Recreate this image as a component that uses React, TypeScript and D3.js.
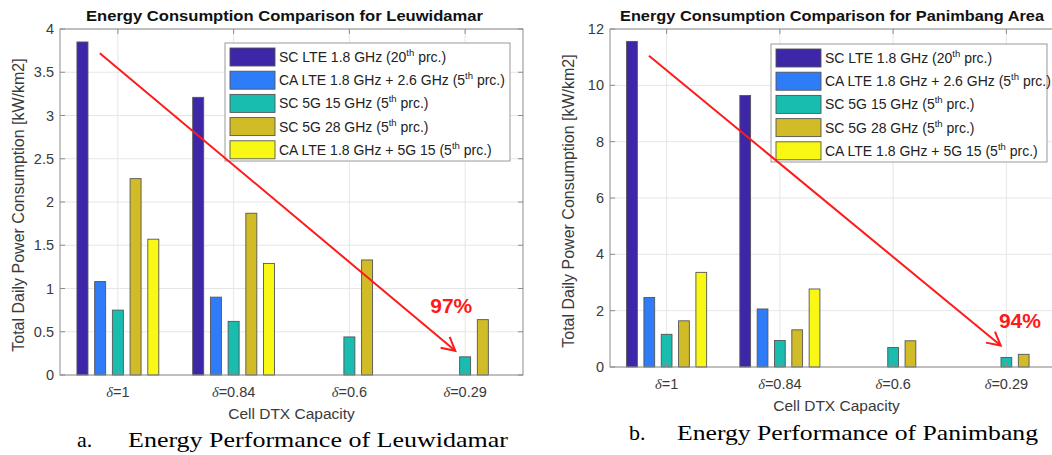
import React from "react";
import * as d3 from "d3";

// categories (cell DTX capacity δ)
const categories = ["1", "0.84", "0.6", "0.29"];

// series legend text: [before superscript, superscript, after]
const seriesLabels = [
  ["SC LTE 1.8 GHz (20", "th", " prc.)"],
  ["CA LTE 1.8 GHz + 2.6 GHz (5", "th", " prc.)"],
  ["SC 5G 15 GHz (5", "th", " prc.)"],
  ["SC 5G 28 GHz (5", "th", " prc.)"],
  ["CA LTE 1.8 GHz + 5G 15 (5", "th", " prc.)"],
];
const seriesColors = ["#3d26a8", "#2f7cf8", "#19bdb0", "#d1bc28", "#f8f814"];

// values per series, per category
const leuwidamarValues = [
  [3.85, 3.21, 0, 0],
  [1.08, 0.9, 0, 0],
  [0.75, 0.62, 0.44, 0.21],
  [2.27, 1.87, 1.33, 0.64],
  [1.57, 1.29, 0, 0],
];
const panimbangValues = [
  [11.56, 9.64, 0, 0],
  [2.47, 2.06, 0, 0],
  [1.16, 0.94, 0.69, 0.34],
  [1.64, 1.32, 0.93, 0.45],
  [3.36, 2.77, 0, 0],
];

const leuwidamarTicks = [0, 0.5, 1, 1.5, 2, 2.5, 3, 3.5, 4];
const panimbangTicks = [0, 2, 4, 6, 8, 10, 12];

// reduction arrows (data units: [x, y] start -> end) and labels
const leuwidamarArrow = [[0.844, 3.72], [3.915, 0.28]];
const panimbangArrow = [[0.844, 11.05], [3.95, 0.76]];
const leuwidamarPct = { text: "97%", x: 3.88, y: 0.72 };
const panimbangPct = { text: "94%", x: 4.12, y: 1.38 };

const font = "'Liberation Sans', Arial, sans-serif";
const serif = "'Liberation Serif', 'Times New Roman', serif";
const axisColor = "#8c8c8c";
const textColor = "#3a3a3a";

function Panel({
  title,
  titleX,
  titleW,
  values,
  ticks,
  yMax,
  arrow,
  pct,
  caption,
  left,
  right,
  top,
  bottom,
  legend,
  capY,
  capX,
  capTextX,
  capWidth,
}) {
  const x = d3.scaleLinear().domain([0.5, 4.5]).range([left, right]);
  const y = d3.scaleLinear().domain([0, yMax]).range([bottom, top]);
  const slot = 0.153;
  const bw = 0.095;
  const tick = 5;
  const midX = (left + right) / 2;
  const midY = (top + bottom) / 2;

  const [[ax0, ay0], [ax1, ay1]] = arrow;
  const p0 = [x(ax0), y(ay0)];
  const p1 = [x(ax1), y(ay1)];
  const ang = Math.atan2(p1[1] - p0[1], p1[0] - p0[0]);
  const headLen = 15;
  const headAng = (28 * Math.PI) / 180;
  const wing = (s) => [
    p1[0] - headLen * Math.cos(ang + s * headAng),
    p1[1] - headLen * Math.sin(ang + s * headAng),
  ];
  const w1 = wing(1);
  const w2 = wing(-1);

  return (
    <g>
      <text
        x={titleX}
        y={21}
        textLength={titleW}
        lengthAdjust="spacingAndGlyphs"
        fontFamily={font}
        fontWeight="bold"
        fontSize={15.5}
        fill="#111"
      >
        {title}
      </text>
      <rect x={left} y={top} width={right - left} height={bottom - top} fill="#fff" />
      {/* grid */}
      {ticks.map((t) => (
        <line key={"gy" + t} x1={left} x2={right} y1={y(t)} y2={y(t)} stroke="#e6e6e6" />
      ))}
      {categories.map((c, i) => (
        <line key={"gx" + c} x1={x(i + 1)} x2={x(i + 1)} y1={top} y2={bottom} stroke="#e6e6e6" />
      ))}
      {/* bars */}
      {values.map((row, s) =>
        row.map((v, ci) =>
          v > 0 ? (
            <rect
              key={s + "-" + ci}
              x={x(ci + 1 + (s - 2) * slot - bw / 2)}
              y={y(v)}
              width={x(bw) - x(0)}
              height={y(0) - y(v)}
              fill={seriesColors[s]}
              stroke="#555"
              strokeWidth={0.9}
            />
          ) : null
        )
      )}
      {/* axes box and inward ticks */}
      <rect x={left} y={top} width={right - left} height={bottom - top} fill="none" stroke={axisColor} />
      {ticks.map((t) => (
        <g key={"ty" + t}>
          <line x1={left} x2={left + tick} y1={y(t)} y2={y(t)} stroke={axisColor} />
          <line x1={right} x2={right - tick} y1={y(t)} y2={y(t)} stroke={axisColor} />
          <text
            x={left - 6}
            y={y(t)}
            dy="0.35em"
            textAnchor="end"
            fontFamily={font}
            fontSize={14.5}
            fill={textColor}
          >
            {t}
          </text>
        </g>
      ))}
      {categories.map((c, i) => (
        <g key={"tx" + c}>
          <line x1={x(i + 1)} x2={x(i + 1)} y1={bottom} y2={bottom - tick} stroke={axisColor} />
          <line x1={x(i + 1)} x2={x(i + 1)} y1={top} y2={top + tick} stroke={axisColor} />
          <text
            x={x(i + 1)}
            y={bottom + 22}
            textAnchor="middle"
            fontFamily={font}
            fontSize={14.5}
            fill={textColor}
          >
            <tspan fontStyle="italic" fontFamily={serif}>δ</tspan>
            {"=" + c}
          </text>
        </g>
      ))}
      <text
        x={midX}
        y={bottom + 44}
        textAnchor="middle"
        fontFamily={font}
        fontSize={15.5}
        fill={textColor}
      >
        Cell DTX Capacity
      </text>
      <text
        transform={`translate(${left - 42},${midY + 3}) rotate(-90)`}
        textAnchor="middle"
        dy="0.35em"
        fontFamily={font}
        fontSize={16}
        fill={textColor}
      >
        Total Daily Power Consumption [kW/km2]
      </text>
      {/* legend */}
      <g transform={`translate(${legend.x},${legend.y})`}>
        <rect width={legend.w} height={118} fill="#fff" stroke="#999" />
        {seriesLabels.map((lab, s) => (
          <g key={"lg" + s} transform={`translate(5,${14 + s * 23.2})`}>
            <rect x={0} y={-9} width={45} height={18} fill={seriesColors[s]} stroke="#555" strokeWidth={0.9} />
            <text x={49} y={5} fontFamily={font} fontSize={14} fill="#222">
              {lab[0]}
              <tspan fontSize={9.5} dy={-6}>
                {lab[1]}
              </tspan>
              <tspan dy={6}>{lab[2]}</tspan>
            </text>
          </g>
        ))}
      </g>
      {/* reduction arrow */}
      <g stroke="#ff1a1a" strokeWidth={2} fill="none">
        <line x1={p0[0]} y1={p0[1]} x2={p1[0]} y2={p1[1]} />
        <polyline points={`${w1[0]},${w1[1]} ${p1[0]},${p1[1]} ${w2[0]},${w2[1]}`} />
      </g>
      <text
        x={x(pct.x)}
        y={y(pct.y)}
        textAnchor="middle"
        fontFamily={font}
        fontWeight="bold"
        fontSize={21}
        fill="#ff1a1a"
      >
        {pct.text}
      </text>
      {/* caption */}
      <text x={capX} y={capY} fontFamily={serif} fontSize={22} fill="#000">
        {caption[0]}
      </text>
      <text
        x={capTextX}
        y={capY}
        textLength={capWidth}
        lengthAdjust="spacingAndGlyphs"
        fontFamily={serif}
        fontSize={22}
        fill="#000"
      >
        {caption[1]}
      </text>
    </g>
  );
}

export default function App() {
  return (
    <div style={{ position: "absolute", left: 0, top: 0 }}>
      <svg width={1052} height={455} style={{ display: "block", background: "#fff" }}>
        <Panel
          title="Energy Consumption Comparison for Leuwidamar"
          titleX={86}
          titleW={397}
          values={leuwidamarValues}
          ticks={leuwidamarTicks}
          yMax={4}
          arrow={leuwidamarArrow}
          pct={leuwidamarPct}
          caption={["a.", "Energy Performance of Leuwidamar"]}
          left={60}
          right={523}
          top={29}
          bottom={375}
          legend={{ x: 225, y: 43, w: 285 }}
          capY={447}
          capX={77}
          capTextX={128}
          capWidth={380}
        />
        <Panel
          title="Energy Consumption Comparison for Panimbang Area"
          titleX={620}
          titleW={424}
          values={panimbangValues}
          ticks={panimbangTicks}
          yMax={12}
          arrow={panimbangArrow}
          pct={panimbangPct}
          caption={["b.", "Energy Performance of Panimbang"]}
          left={610}
          right={1063}
          top={29}
          bottom={367}
          legend={{ x: 771, y: 44, w: 276 }}
          capY={440}
          capX={629}
          capTextX={677}
          capWidth={361}
        />
      </svg>
    </div>
  );
}
